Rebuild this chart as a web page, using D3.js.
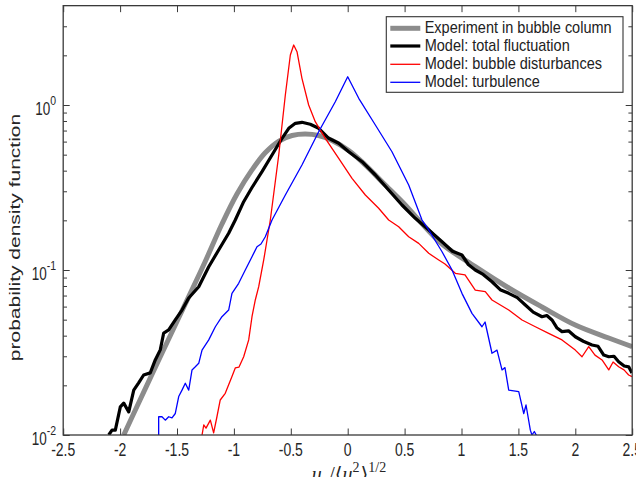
<!DOCTYPE html>
<html><head><meta charset="utf-8">
<script src="https://cdn.jsdelivr.net/npm/d3@7"></script>
<style>body{margin:0;background:#fff}svg{display:block}</style>
</head><body>
<svg id="c" width="636" height="477"></svg>
<script>
// ---------- data ----------
const xTicks = [-2.5,-2,-1.5,-1,-0.5,0,0.5,1,1.5,2,2.5];
const xTickLabels = ["-2.5","-2","-1.5","-1","-0.5","0","0.5","1","1.5","2","2.5"];
const yTicks = [0.01,0.1,1];
const yTickExps = ["-2","-1","0"];
const yMinorTicks = [0.02,0.03,0.04,0.05,0.06,0.07,0.08,0.09,0.2,0.3,0.4,0.5,0.6,0.7,0.8,0.9,2,3];
const seriesNames = ["Experiment in bubble column","Model: total fluctuation","Model: bubble disturbances","Model: turbulence"];
const seriesColors = ["#8c8c8c","#000000","#ff0000","#0000ff"];
const seriesWidths = [5,3.2,1.3,1.3];

const expX = [-1.968,-1.825,-1.685,-1.544,-1.403,-1.254,-1.105,-0.973,-0.841,-0.727,-0.604,-0.489,-0.375,-0.255,-0.138,0.009,0.155,0.330,0.506,0.624,0.829,1.121,1.415,1.707,2.0,2.294,2.5];
const expY = [0.0100,0.0163,0.0262,0.0421,0.0676,0.1118,0.190,0.289,0.404,0.512,0.605,0.653,0.667,0.653,0.609,0.530,0.433,0.3275,0.2477,0.2009,0.1437,0.1047,0.0778,0.0597,0.0464,0.0387,0.0343];

const totX = [-2.100,-2.071,-2.042,-1.998,-1.968,-1.924,-1.880,-1.837,-1.793,-1.735,-1.691,-1.647,-1.617,-1.573,-1.515,-1.456,-1.397,-1.309,-1.221,-1.134,-1.046,-0.988,-0.914,-0.841,-0.753,-0.665,-0.577,-0.518,-0.460,-0.402,-0.329,-0.255,-0.167,-0.079,0.009,0.126,0.243,0.360,0.477,0.594,0.70,0.829,0.92,1.004,1.06,1.121,1.19,1.268,1.34,1.415,1.49,1.561,1.63,1.707,1.75,1.795,1.84,1.883,1.94,2.0,2.07,2.147,2.2,2.25,2.294,2.34,2.381,2.43,2.469,2.498];
const totY = [0.0100,0.0107,0.0107,0.0148,0.0156,0.0138,0.0187,0.0207,0.0231,0.0238,0.0285,0.0328,0.0415,0.0433,0.0498,0.0572,0.0677,0.0792,0.1047,0.1322,0.1669,0.2009,0.2594,0.3162,0.3943,0.4977,0.6284,0.7224,0.7746,0.7855,0.7638,0.7224,0.6284,0.586,0.521,0.4533,0.3765,0.3054,0.2477,0.2057,0.178,0.1484,0.130,0.1233,0.108,0.100,0.094,0.0849,0.076,0.0722,0.068,0.0614,0.0555,0.0521,0.053,0.0498,0.0445,0.0423,0.0428,0.0394,0.0370,0.0351,0.0345,0.0305,0.0298,0.0300,0.0278,0.0262,0.0259,0.0238];

const bubX = [-1.280,-1.265,-1.245,-1.207,-1.178,-1.149,-1.120,-1.076,-1.017,-0.988,-0.955,-0.914,-0.870,-0.841,-0.812,-0.782,-0.738,-0.709,-0.680,-0.606,-0.548,-0.504,-0.4745,-0.4455,-0.402,-0.343,-0.285,-0.197,-0.079,0.038,0.155,0.272,0.360,0.448,0.536,0.624,0.712,0.800,0.855,0.946,1.031,1.121,1.209,1.268,1.415,1.532,1.649,1.766,1.883,2.0,2.059,2.118,2.173,2.235,2.294,2.332,2.381,2.428,2.469,2.498];
const bubY = [0.0100,0.0115,0.0110,0.0123,0.0103,0.0129,0.0163,0.0179,0.0226,0.0255,0.0258,0.0298,0.0377,0.0521,0.0658,0.0792,0.115,0.152,0.2009,0.4977,1.150,2.009,2.31,2.104,1.451,1.0,0.792,0.6284,0.4753,0.3596,0.2847,0.2366,0.2009,0.183,0.159,0.145,0.1262,0.115,0.1087,0.0955,0.0933,0.0756,0.0739,0.0658,0.0572,0.0498,0.0453,0.0413,0.0377,0.0327,0.0298,0.0343,0.0305,0.0285,0.0248,0.0277,0.0259,0.0248,0.0231,0.0226];

const turbX = [-1.661,-1.661,-1.632,-1.603,-1.573,-1.544,-1.515,-1.485,-1.456,-1.427,-1.397,-1.368,-1.339,-1.309,-1.280,-1.221,-1.163,-1.105,-1.046,-1.017,-0.958,-0.900,-0.841,-0.797,-0.762,-0.724,-0.665,-0.548,-0.402,-0.255,-0.109,0,0.097,0.243,0.389,0.536,0.653,0.712,0.829,0.917,1.004,1.092,1.180,1.207,1.268,1.312,1.356,1.382,1.415,1.503,1.547,1.567,1.605,1.619,1.64,1.66];
const turbY = [0.0100,0.0129,0.0129,0.0123,0.0129,0.0127,0.0135,0.0171,0.0187,0.0206,0.0187,0.0248,0.0259,0.0272,0.0327,0.0377,0.0453,0.0521,0.0572,0.0722,0.0831,0.1,0.1204,0.1384,0.1437,0.159,0.2009,0.2847,0.433,0.689,1.047,1.484,1.098,0.7565,0.521,0.3275,0.2009,0.1748,0.129,0.1,0.0722,0.0546,0.0453,0.0484,0.0313,0.0327,0.0248,0.0256,0.0187,0.0183,0.0135,0.0152,0.0107,0.0100,0.0105,0.0099];

// ---------- layout ----------
const svg = d3.select("#c");
const X0 = 63.2, X1 = 632.2, Y1 = 435, DEC = 165;
const x = d3.scaleLinear().domain([-2.5, 2.5]).range([X0, X1]);
const y = d3.scaleLog().domain([0.01, 4]).range([Y1, Y1 - DEC * Math.log10(400)]);
const Y0 = y(4);
const axisColor = "#3a3a3a";
const textColor = "#262626";

svg.append("defs").append("clipPath").attr("id","clip")
  .append("rect").attr("x",X0).attr("y",Y0).attr("width",X1-X0).attr("height",Y1-Y0);

// series
const series = [[expX,expY],[totX,totY],[bubX,bubY],[turbX,turbY]];
const gLines = svg.append("g").attr("clip-path","url(#clip)");
series.forEach(([xs,ys],i)=>{
  const pts = xs.map((v,j)=>[v,ys[j]]);
  const line = d3.line().x(d=>x(d[0])).y(d=>y(d[1]))
    .curve(i===0 ? d3.curveCatmullRom.alpha(0.5) : d3.curveLinear);
  gLines.append("path").datum(pts).attr("d",line)
    .attr("fill","none").attr("stroke",seriesColors[i])
    .attr("stroke-width",seriesWidths[i])
    .attr("stroke-linejoin","round").attr("stroke-linecap","butt");
});

// axes (box with inward ticks)
function clean(g){ g.select(".domain").remove(); g.selectAll("line").attr("stroke",axisColor).attr("stroke-width",1); }
svg.append("g").attr("transform",`translate(0,${Y1})`)
  .call(d3.axisBottom(x).tickValues(xTicks).tickSizeInner(-6.5).tickSizeOuter(0).tickFormat("")).call(clean);
svg.append("g").attr("transform",`translate(0,${Y0})`)
  .call(d3.axisTop(x).tickValues(xTicks).tickSizeInner(-6.5).tickSizeOuter(0).tickFormat("")).call(clean);
svg.append("g").attr("transform",`translate(${X0},0)`)
  .call(d3.axisLeft(y).tickValues(yTicks).tickSizeInner(-6.5).tickSizeOuter(0).tickFormat("")).call(clean);
svg.append("g").attr("transform",`translate(${X0},0)`)
  .call(d3.axisLeft(y).tickValues(yMinorTicks).tickSizeInner(-3.8).tickSizeOuter(0).tickFormat("")).call(clean);
svg.append("g").attr("transform",`translate(${X1},0)`)
  .call(d3.axisRight(y).tickValues(yTicks).tickSizeInner(-6.5).tickSizeOuter(0).tickFormat("")).call(clean);
svg.append("g").attr("transform",`translate(${X1},0)`)
  .call(d3.axisRight(y).tickValues(yMinorTicks).tickSizeInner(-3.8).tickSizeOuter(0).tickFormat("")).call(clean);
svg.append("rect").attr("x",X0).attr("y",Y0).attr("width",X1-X0).attr("height",Y1-Y0)
  .attr("fill","none").attr("stroke",axisColor).attr("stroke-width",1.3);

// tick labels
const font = "'Liberation Sans', Arial, Helvetica, sans-serif";
svg.selectAll("text.xt").data(xTicks).join("text").attr("class","xt")
  .attr("transform",d=>`translate(${x(d)},456) scale(1,1.3)`)
  .attr("text-anchor","middle").attr("font-family",font).attr("font-size",14)
  .attr("fill",textColor).text((d,i)=>xTickLabels[i]);

const yt = svg.selectAll("text.yt").data(yTicks).join("text").attr("class","yt")
  .attr("transform",d=>`translate(56,${y(d)+10}) scale(1,1.3)`)
  .attr("text-anchor","end").attr("font-family",font).attr("fill",textColor);
yt.append("tspan").attr("font-size",13.5).text("10");
yt.append("tspan").attr("font-size",10.5).attr("dy",-7.5).text((d,i)=>yTickExps[i]);

// axis labels
svg.append("text").attr("transform","translate(20,237.5) rotate(-90) scale(1.4,1)")
  .attr("text-anchor","middle").attr("font-family",font).attr("font-size",15)
  .attr("fill",textColor).text("probability density function");

const xl = svg.append("text").attr("x",349).attr("y",481).attr("text-anchor","middle")
  .attr("font-family","'Liberation Serif','DejaVu Serif',serif").attr("font-size",20).attr("fill",textColor);
xl.append("tspan").attr("font-style","italic").text("u");
xl.append("tspan").attr("font-style","italic").attr("font-size",14).attr("dy",4).text("z");
xl.append("tspan").attr("dy",-4).attr("dx",2).text("/\u27E8");
xl.append("tspan").attr("font-style","italic").text("u");
xl.append("tspan").attr("font-size",14).attr("dy",-9).text("2");
xl.append("tspan").attr("dy",9).attr("dx",1).text("\u27E9");
xl.append("tspan").attr("font-size",14).attr("dy",-9).text("1/2");

// legend
const lg = svg.append("g");
lg.append("rect").attr("x",386.3).attr("y",16.7).attr("width",236.7).attr("height",75.6)
  .attr("fill","#fff").attr("stroke","#333").attr("stroke-width",1.1);
const rowY = [28.3,46,64.3,82.3];
seriesNames.forEach((n,i)=>{
  lg.append("line").attr("x1",390.3).attr("x2",420.3).attr("y1",rowY[i]).attr("y2",rowY[i])
    .attr("stroke",seriesColors[i]).attr("stroke-width",seriesWidths[i]);
  lg.append("text").attr("transform",`translate(424.7,${rowY[i]+5}) scale(1,1.1)`)
    .attr("font-family",font).attr("font-size",14.5).attr("fill","#222").text(n);
});
</script>
</body></html>
